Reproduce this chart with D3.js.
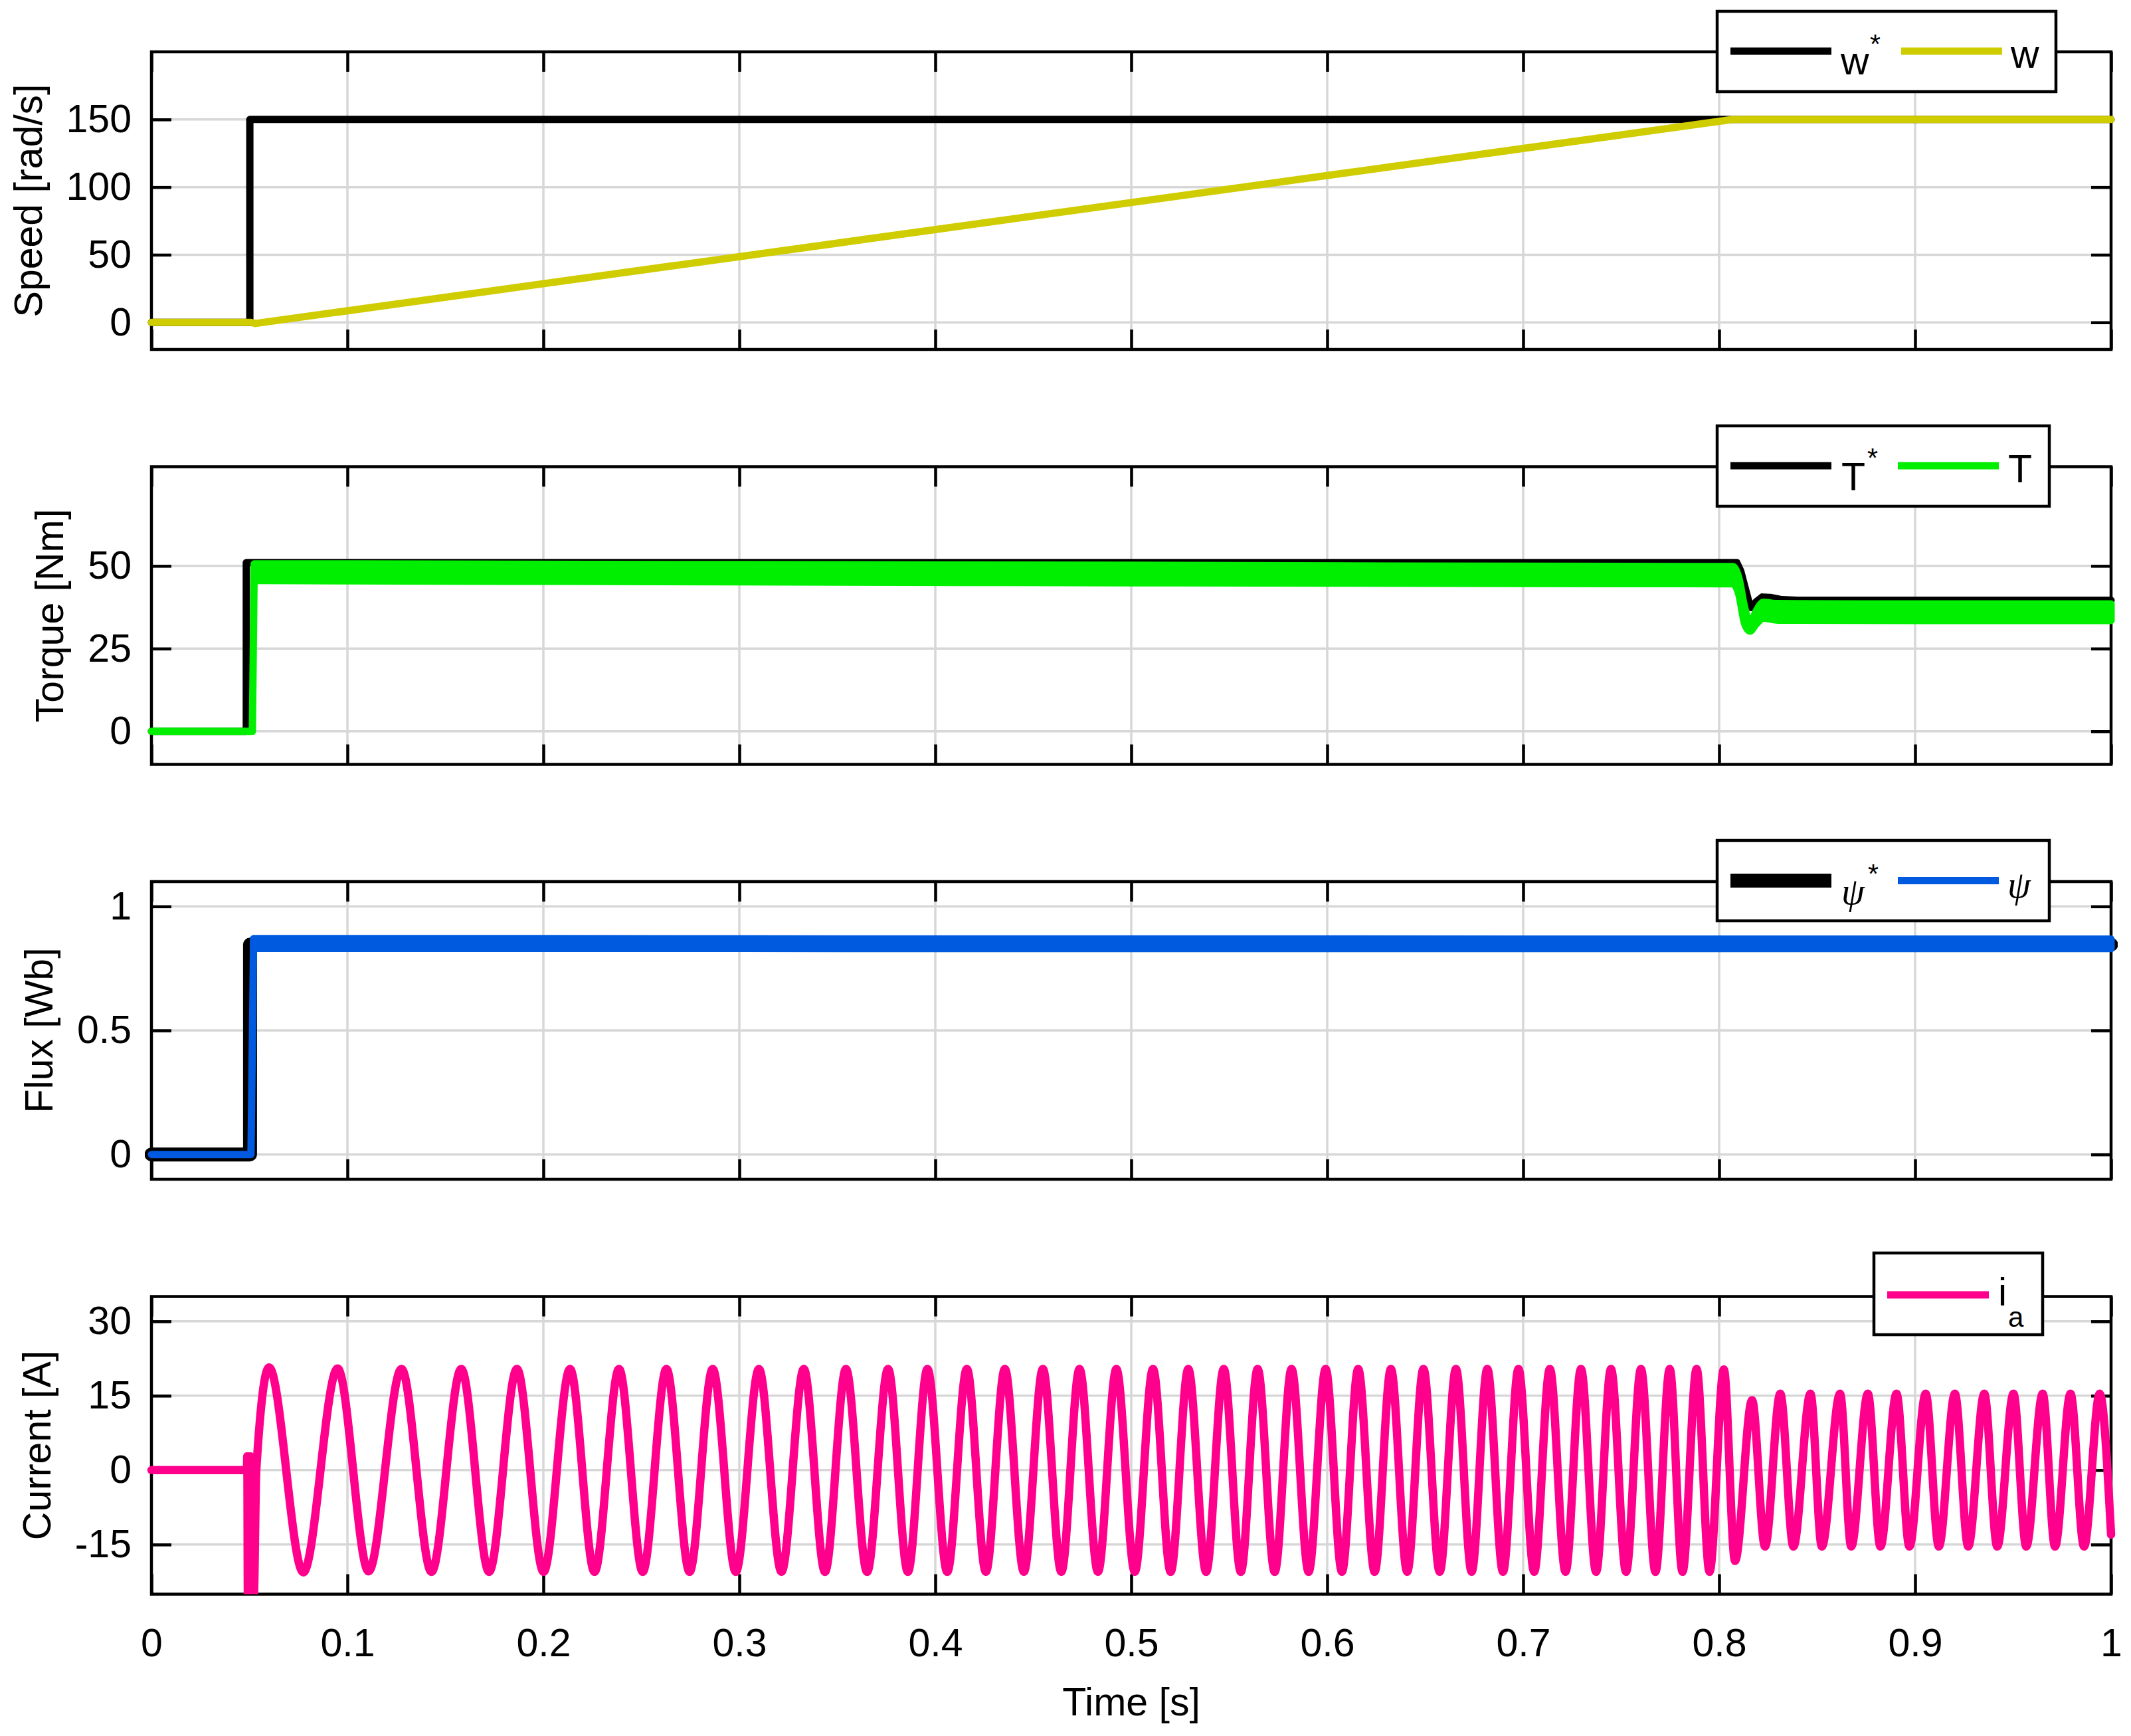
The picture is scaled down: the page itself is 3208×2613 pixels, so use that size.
<!DOCTYPE html>
<html>
<head>
<meta charset="utf-8">
<script src="https://cdnjs.cloudflare.com/ajax/libs/d3/7.8.5/d3.min.js"></script>
<style>
html,body{margin:0;padding:0;background:#fff;}
svg{display:block;}
</style>
</head>
<body>
<script>
// ---------------- DATA ----------------
const timeTicks=[0,0.1,0.2,0.3,0.4,0.5,0.6,0.7,0.8,0.9,1];
const timeTickLabels=["0","0.1","0.2","0.3","0.4","0.5","0.6","0.7","0.8","0.9","1"];
const speedTicks=[0,50,100,150];
const speedTickLabels=["0","50","100","150"];
const torqueTicks=[0,25,50];
const torqueTickLabels=["0","25","50"];
const fluxTicks=[0,0.5,1];
const fluxTickLabels=["0","0.5","1"];
const currentTicks=[-15,0,15,30];
const currentTickLabels=["-15","0","15","30"];

// Speed [rad/s]
const wRefT=[0,0.0502,0.0502,1.0];
const wRefV=[0,0,150,150];
const wT=[0,0.0508,0.0530,0.8070,1.0];
const wV=[0,0,-0.8,150,150];

// Torque [Nm]
const TrefT=[0,0.0484,0.0484,0.8090,0.8110,0.8150,0.8165,0.8190,0.8220,0.8260,0.8320,0.8400,1.0];
const TrefV=[0,0,51,51,48.5,39.5,37.4,39.2,40.6,40.5,39.8,39.6,39.6];
const TStartT=[0,0.0515,0.0524];
const TStartV=[0,0,48];
const TT=[0.0524,0.1,0.3,0.5,0.7,0.8070,0.8100,0.8130,0.8157,0.8190,0.8226,0.8300,0.9,1.0];
const TUpper=[50.6,50.6,50.4,50.2,49.9,49.8,46.5,37.5,32.5,36.5,39.0,38.6,38.5,38.5];
const TLower=[45.6,45.5,45.2,44.9,44.7,44.6,41.5,32.5,30.3,32.5,34.2,33.6,33.5,33.5];

// Flux [Wb]
const psiRefT=[0,0.0503,0.0503,1.0];
const psiRefV=[0,0,0.846,0.846];
const psiStartT=[0,0.0508,0.0521];
const psiStartV=[0,0,0.85];
const psiT=[0.0521,0.2,0.4,0.6,0.8,1.0];
const psiUpper=[0.870,0.870,0.869,0.869,0.868,0.868];
const psiLower=[0.831,0.831,0.830,0.830,0.830,0.830];

// Current [A] : start transient, then read peaks / troughs, then end value
const iaStartT=[0,0.0487,0.0489,0.0492,0.0496,0.0500,0.0504,0.0508,0.0512,0.0516,0.0522,0.0535];
const iaStartV=[0,0,2.8,-26,2.8,-26,2.8,-26,1,-26,-26,0];
const iaPeakT=[0.0600,0.0950,0.1276,0.1581,0.1865,0.2136,0.2386,0.2628,0.2864,0.3100,
0.3329,0.3544,0.3759,0.3960,0.4161,0.4355,0.4549,0.4736,0.4924,0.5111,
0.5291,0.5472,0.5645,0.5818,0.5992,0.6158,0.6325,0.6491,0.6657,0.6817,
0.6976,0.7136,0.7295,0.7448,0.7601,0.7748,0.7885,0.8024,0.8168,0.8312,
0.8466,0.8617,0.8759,0.8905,0.9054,0.9203,0.9353,0.9502,0.9651,0.9793,0.9942];
const iaPeakV=[20.7,20.5,20.4,20.4,20.4,20.4,20.4,20.4,20.4,20.4,
20.4,20.4,20.4,20.4,20.4,20.4,20.4,20.4,20.4,20.4,
20.4,20.4,20.4,20.4,20.4,20.4,20.4,20.4,20.4,20.4,
20.4,20.4,20.4,20.4,20.4,20.4,20.4,20.3,14.1,15.4,
15.4,15.4,15.4,15.4,15.4,15.4,15.4,15.4,15.4,15.4,15.4];
const iaTroughT=[0.0775,0.1108,0.1429,0.1723,0.2001,0.2261,0.2507,0.2746,0.2982,0.3215,
0.3437,0.3652,0.3860,0.4061,0.4258,0.4452,0.4643,0.4830,0.5018,0.5201,
0.5382,0.5559,0.5732,0.5905,0.6075,0.6242,0.6408,0.6574,0.6737,0.6897,
0.7056,0.7216,0.7372,0.7525,0.7675,0.7813,0.7951,0.8081,0.8234,0.8379,
0.8524,0.8674,0.8823,0.8971,0.9121,0.9271,0.9419,0.9567,0.9714,0.9862];
const iaTroughV=[-20.6,-20.4,-20.5,-20.5,-20.5,-20.5,-20.5,-20.5,-20.5,-20.5,
-20.5,-20.5,-20.5,-20.5,-20.5,-20.5,-20.5,-20.5,-20.5,-20.5,
-20.5,-20.5,-20.5,-20.5,-20.5,-20.5,-20.5,-20.5,-20.5,-20.5,
-20.5,-20.5,-20.5,-20.5,-20.5,-20.5,-20.5,-18.3,-15.4,-15.4,
-15.4,-15.4,-15.4,-15.4,-15.4,-15.4,-15.4,-15.4,-15.4,-15.4];
const iaEndT=[1.0];
const iaEndV=[-13];

// ---------------- LAYOUT ----------------
const W=3208,H=2613;
const FONT='"Liberation Sans", Arial, Helvetica, sans-serif';
const SERIF='"Liberation Serif", "Times New Roman", serif';
const FS=59;
const L=228,R=3178,PW=R-L,PH=448;
const tops=[78,702.5,1327,1951.5];
const LW=11;
const cBlack="#000000", cYellow="#cfcc00", cGreen="#00ee00", cBlue="#005ae0", cPink="#ff008c";

const svg=d3.select("body").append("svg").attr("width",W).attr("height",H).attr("viewBox",`0 0 ${W} ${H}`);
svg.append("rect").attr("width",W).attr("height",H).attr("fill","#fff");
const x=d3.scaleLinear().domain([0,1]).range([L,R]);

const zip=(a,b)=>a.map((v,i)=>[v,b[i]]);

function makePanel(i,domain,ticks,labels,ylabel,showX){
  const top=tops[i], bot=top+PH;
  const y=d3.scaleLinear().domain(domain).range([bot,top]);
  const g=svg.append("g");
  const grid=g.append("g").attr("stroke","#d7d7d7").attr("stroke-width",3.5);
  grid.selectAll("line.gv").data(timeTicks.filter(t=>t>0&&t<1)).join("line").attr("class","gv")
    .attr("x1",d=>x(d)).attr("x2",d=>x(d)).attr("y1",top).attr("y2",bot);
  grid.selectAll("line.gh").data(ticks).join("line").attr("class","gh")
    .attr("x1",L).attr("x2",R).attr("y1",d=>y(d)).attr("y2",d=>y(d));
  const styleAx=a=>{a.select(".domain").remove();a.attr("font-family",FONT).attr("font-size",FS);
    a.selectAll("line").attr("stroke","#000").attr("stroke-width",4.5);
    a.selectAll("text").attr("fill","#000");};
  const axL=g.append("g").attr("transform",`translate(${L},0)`)
    .call(d3.axisLeft(y).tickValues(ticks).tickFormat((d,k)=>labels[k]).tickSize(-30).tickPadding(30));
  styleAx(axL);
  const axR=g.append("g").attr("transform",`translate(${R},0)`)
    .call(d3.axisRight(y).tickValues(ticks).tickFormat("").tickSize(-30));
  styleAx(axR);
  const axT=g.append("g").attr("transform",`translate(0,${top})`)
    .call(d3.axisTop(x).tickValues(timeTicks).tickFormat("").tickSize(-30));
  styleAx(axT);
  const axB=g.append("g").attr("transform",`translate(0,${bot})`)
    .call(d3.axisBottom(x).tickValues(timeTicks).tickFormat(showX?((d,k)=>timeTickLabels[k]):"").tickSize(-30).tickPadding(52));
  styleAx(axB);
  g.append("rect").attr("x",L).attr("y",top).attr("width",PW).attr("height",PH)
    .attr("fill","none").attr("stroke","#000").attr("stroke-width",4.5);
  let minLeft=1e9;
  axL.selectAll("text").each(function(){const b=this.getBBox();minLeft=Math.min(minLeft,L+b.x);});
  const bx=minLeft-37;
  svg.append("text").attr("transform",`translate(${bx},${(top+bot)/2}) rotate(-90)`)
    .attr("text-anchor","middle").attr("font-family",FONT).attr("font-size",FS).attr("fill","#000").text(ylabel);
  const cid="clip"+i;
  svg.append("clipPath").attr("id",cid).append("rect").attr("x",L-10).attr("y",top).attr("width",PW+20).attr("height",PH);
  const dg=svg.append("g").attr("clip-path",`url(#${cid})`);
  return {y,dg,top,bot};
}

function drawLine(dg,y,pts,color,w,curve){
  dg.append("path").attr("d",d3.line().x(d=>x(d[0])).y(d=>y(d[1])).curve(curve||d3.curveLinear)(pts))
    .attr("fill","none").attr("stroke",color).attr("stroke-width",w)
    .attr("stroke-linejoin","round").attr("stroke-linecap","round");
}
function drawBand(dg,y,t,up,lo,color,w){
  const pts=t.map((v,i)=>({t:v,u:up[i],l:lo[i]}));
  dg.append("path").attr("d",d3.area().x(d=>x(d.t)).y0(d=>y(d.l)).y1(d=>y(d.u)).curve(d3.curveMonotoneX)(pts))
    .attr("fill",color).attr("stroke",color).attr("stroke-width",w).attr("stroke-linejoin","round");
}

// Panel 1: Speed
const p1=makePanel(0,[-20,200],speedTicks,speedTickLabels,"Speed [rad/s]",false);
drawLine(p1.dg,p1.y,zip(wRefT,wRefV),cBlack,LW);
drawLine(p1.dg,p1.y,zip(wT,wV),cYellow,LW);

// Panel 2: Torque
const p2=makePanel(1,[-10,80],torqueTicks,torqueTickLabels,"Torque [Nm]",false);
drawLine(p2.dg,p2.y,zip(TrefT,TrefV),cBlack,LW);
drawLine(p2.dg,p2.y,zip(TStartT,TStartV),cGreen,LW);
drawBand(p2.dg,p2.y,TT,TUpper,TLower,cGreen,LW);

// Panel 3: Flux
const p3=makePanel(2,[-0.1,1.1],fluxTicks,fluxTickLabels,"Flux [Wb]",false);
drawLine(p3.dg,p3.y,zip(psiRefT,psiRefV),cBlack,21);
drawLine(p3.dg,p3.y,zip(psiStartT,psiStartV),cBlue,LW);
drawBand(p3.dg,p3.y,psiT,psiUpper,psiLower,cBlue,LW);

// Panel 4: Current
const p4=makePanel(3,[-25,35],currentTicks,currentTickLabels,"Current [A]",true);
const iaPts=zip(iaStartT,iaStartV);
iaPeakT.forEach((t,k)=>{iaPts.push([t,iaPeakV[k]]); if(k<iaTroughT.length) iaPts.push([iaTroughT[k],iaTroughV[k]]);});
iaEndT.forEach((t,k)=>iaPts.push([t,iaEndV[k]]));
drawLine(p4.dg,p4.y,iaPts,cPink,12.5,d3.curveMonotoneX);

// x label
svg.append("text").attr("x",(L+R)/2).attr("y",2582).attr("text-anchor","middle")
  .attr("font-family",FONT).attr("font-size",FS).attr("fill","#000").text("Time [s]");

// ---------------- LEGENDS ----------------
function lbox(bx,by,bw,bh){svg.append("rect").attr("x",bx).attr("y",by).attr("width",bw).attr("height",bh)
  .attr("fill","#fff").attr("stroke","#000").attr("stroke-width",4.5);}
function lline(x1,x2,yy,c,w){svg.append("line").attr("x1",x1).attr("x2",x2).attr("y1",yy).attr("y2",yy)
  .attr("stroke",c).attr("stroke-width",w);}
function ltext(xx,yy,s,size,fam,style){svg.append("text").attr("x",xx).attr("y",yy).attr("font-family",fam||FONT)
  .attr("font-size",size).attr("font-style",style||"normal").attr("fill","#000").text(s);}

lbox(2585,17,510,121);
lline(2605,2757,77,cBlack,LW); ltext(2771,112,"w",FS); ltext(2815,80,"*",41);
lline(2862,3014,77,cYellow,LW); ltext(3027,102,"w",FS);
lbox(2585,641,500,121);
lline(2605,2757,701,cBlack,LW); ltext(2772,738,"T",FS); ltext(2811,703,"*",41);
lline(2857,3009,701,cGreen,LW); ltext(3023,726,"T",FS);
lbox(2585,1265,500,121);
lline(2605,2757,1325.5,cBlack,21); ltext(2772,1361,"ψ",56,SERIF,"italic"); ltext(2812,1329,"*",41);
lline(2857,3009,1325.5,cBlue,LW); ltext(3022,1351,"ψ",56,SERIF,"italic");
lbox(2821,1886,254,123);
lline(2841,2994,1949,cPink,LW); ltext(3008,1965,"i",FS); ltext(3023,1997,"a",42);
</script>
</body>
</html>
